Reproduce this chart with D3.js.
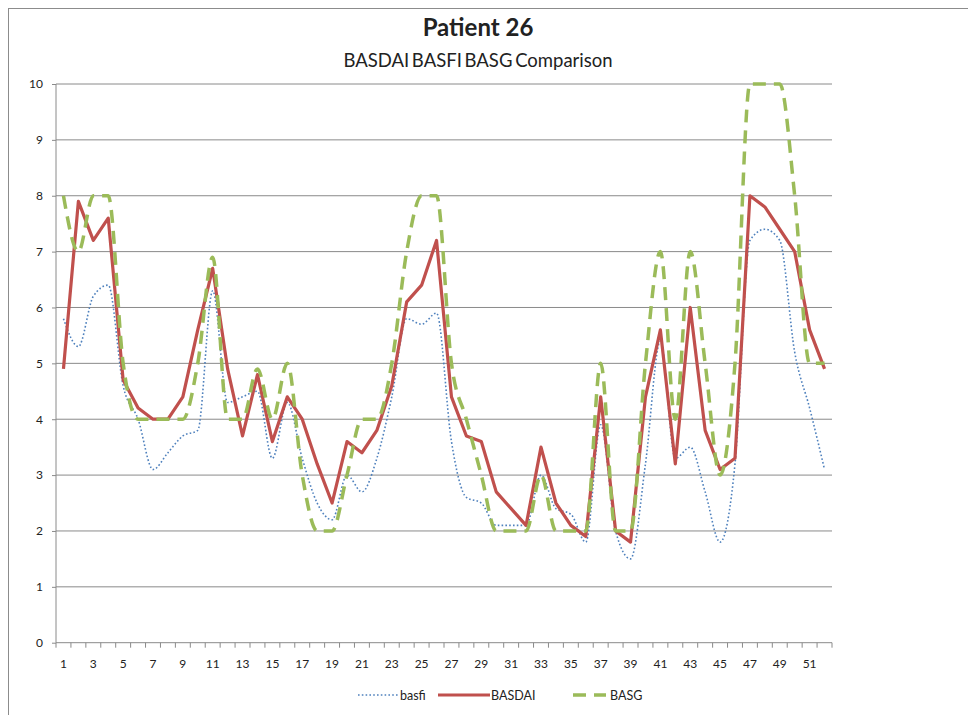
<!DOCTYPE html>
<html>
<head>
<meta charset="utf-8">
<script src="https://cdn.jsdelivr.net/npm/d3@7"></script>
<style>
  html, body { margin: 0; padding: 0; background: #fff; }
  svg { display: block; }
  text { font-family: Lato, "Open Sans", sans-serif; fill: #222; }
</style>
</head>
<body>
<svg id="chart" width="968" height="715"></svg>
<script>
// Visit numbers along the x axis
const categories = d3.range(1, 53);

// BASFI scores per visit
const basfi = [5.8, 5.3, 6.2, 6.4, 4.6, 4.0, 3.1, 3.4, 3.7, 3.8,
  6.3, 4.3, 4.4, 4.5, 3.3, 4.3, 3.3, 2.5, 2.2, 3.0,
  2.7, 3.3, 4.4, 5.8, 5.7, 5.9, 3.6, 2.6, 2.5, 2.1,
  2.1, 2.1, 3.0, 2.4, 2.3, 1.8, 3.9, 2.0, 1.5, 3.2,
  5.4, 3.3, 3.5, 2.7, 1.8, 3.2, 7.2, 7.4, 7.2, 5.2,
  4.2, 3.1];

// BASDAI scores per visit
const basdai = [4.9, 7.9, 7.2, 7.6, 4.7, 4.2, 4.0, 4.0, 4.4, 5.6,
  6.7, 4.9, 3.7, 4.8, 3.6, 4.4, 4.0, 3.2, 2.5, 3.6,
  3.4, 3.8, 4.6, 6.1, 6.4, 7.2, 4.4, 3.7, 3.6, 2.7,
  2.4, 2.1, 3.5, 2.5, 2.1, 1.9, 4.4, 2.0, 1.8, 4.4,
  5.6, 3.2, 6.0, 3.8, 3.1, 3.3, 8.0, 7.8, 7.4, 7.0,
  5.6, 4.9];

// BASG scores per visit
const basg = [8, 7, 8, 8, 5, 4, 4, 4, 4, 5,
  6.9, 4, 4, 4.9, 4, 5, 3, 2, 2, 3,
  4, 4, 5, 7, 8, 8, 5, 4, 3, 2,
  2, 2, 3, 2, 2, 2, 5, 2, 2, 5,
  7, 4, 7, 5, 3, 5, 10, 10, 10, 8,
  5, 5];

const yTicks = d3.range(0, 11);
const xTickLabels = categories.filter(c => c % 2 === 1);

const titleText = "Patient 26";
const subtitleText = "BASDAI BASFI BASG Comparison";

const seriesList = [
  { name: "basfi",  values: basfi,  color: "#4F81BD", width: 1.6, dash: "1.6,2.2", curve: d3.curveMonotoneX },
  { name: "BASDAI", values: basdai, color: "#C0504D", width: 3.2, dash: null,      curve: d3.curveLinear },
  { name: "BASG",   values: basg,   color: "#9BBB59", width: 3.5, dash: "13,8",    curve: d3.curveMonotoneX }
];

const svg = d3.select("#chart");
const plot = { left: 56, right: 832, top: 84, bottom: 642.7 };

// Outer chart frame
svg.append("rect")
  .attr("x", 8.5).attr("y", 8.5)
  .attr("width", 1000).attr("height", 1000)
  .attr("fill", "none").attr("stroke", "#8c8c8c").attr("stroke-width", 1);

const x = d3.scaleBand().domain(categories).range([plot.left, plot.right]).padding(0);
const y = d3.scaleLinear().domain([0, 10]).range([plot.bottom, plot.top]);
const cx = c => x(c) + x.bandwidth() / 2;

// Horizontal gridlines
svg.append("g").selectAll("line")
  .data(yTicks.filter(t => t > 0))
  .join("line")
  .attr("x1", plot.left).attr("x2", plot.right)
  .attr("y1", d => y(d)).attr("y2", d => y(d))
  .attr("stroke", "#8a8a8a").attr("stroke-width", 1);

// Y axis
const yAxis = svg.append("g")
  .attr("transform", `translate(${plot.left},0)`)
  .call(d3.axisLeft(y).tickValues(yTicks).tickSize(4).tickPadding(9).tickFormat(d3.format("d")));
yAxis.select(".domain").attr("stroke", "#8a8a8a").attr("d", `M0,${plot.bottom}V${plot.top}`);
yAxis.selectAll(".tick line").attr("stroke", "#8a8a8a");
yAxis.selectAll("text").attr("font-size", 12).attr("fill", "#2a2a2a").attr("font-family", "Lato, sans-serif");

// X axis: labels on odd visits, tick marks at category boundaries
const xAxis = svg.append("g")
  .attr("transform", `translate(0,${plot.bottom})`)
  .call(d3.axisBottom(x).tickValues(xTickLabels).tickSize(0).tickPadding(17));
xAxis.select(".domain").attr("stroke", "#8a8a8a").attr("d", `M${plot.left},0H${plot.right}`);
xAxis.selectAll("text").attr("font-size", 12).attr("fill", "#2a2a2a").attr("font-family", "Lato, sans-serif");

const boundaries = categories.map(c => x(c)).concat([plot.right]);
svg.append("g").selectAll("line")
  .data(boundaries)
  .join("line")
  .attr("x1", d => d).attr("x2", d => d)
  .attr("y1", plot.bottom).attr("y2", plot.bottom + 5)
  .attr("stroke", "#8a8a8a").attr("stroke-width", 1);

// Series lines
svg.append("clipPath").attr("id", "plot-clip")
  .append("rect")
  .attr("x", plot.left).attr("y", plot.top - 2)
  .attr("width", plot.right - plot.left).attr("height", plot.bottom - plot.top + 4);

const lines = svg.append("g").attr("clip-path", "url(#plot-clip)");
seriesList.forEach(s => {
  const line = d3.line()
    .x((d, i) => cx(categories[i]))
    .y(d => y(d))
    .curve(s.curve);
  lines.append("path")
    .datum(s.values)
    .attr("d", line)
    .attr("fill", "none")
    .attr("stroke", s.color)
    .attr("stroke-width", s.width)
    .attr("stroke-linejoin", "round")
    .attr("stroke-dasharray", s.dash);
});

// Titles
svg.append("text")
  .attr("x", 478).attr("y", 36)
  .attr("text-anchor", "middle")
  .attr("font-size", 24).attr("font-weight", "bold")
  .text(titleText);
svg.append("text")
  .attr("x", 478).attr("y", 67)
  .attr("text-anchor", "middle")
  .attr("font-size", 18.5)
  .attr("word-spacing", -2)
  .text(subtitleText);

// Legend
const legendItems = [
  { s: seriesList[0], x0: 358, x1: 398, tx: 400 },
  { s: seriesList[1], x0: 438, x1: 490, tx: 491 },
  { s: seriesList[2], x0: 573, x1: 606, tx: 610 }
];
const legend = svg.append("g");
legendItems.forEach(it => {
  legend.append("line")
    .attr("x1", it.x0).attr("x2", it.x1)
    .attr("y1", 695).attr("y2", 695)
    .attr("stroke", it.s.color)
    .attr("stroke-width", it.s.width)
    .attr("stroke-dasharray", it.s.dash);
  legend.append("text")
    .attr("x", it.tx).attr("y", 699.5)
    .attr("font-size", 12.5)
    .text(it.s.name);
});
</script>
</body>
</html>
